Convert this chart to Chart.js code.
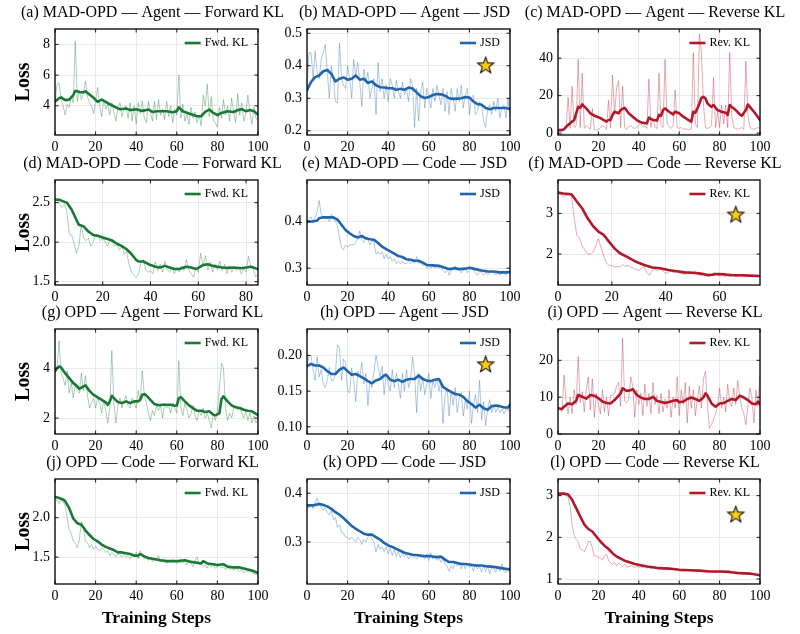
<!DOCTYPE html>
<html>
<head>
<meta charset="utf-8">
<script src="https://cdn.jsdelivr.net/npm/chart.js@4.4.0/dist/chart.umd.min.js"></script>
<style>
  body { margin: 0; background: #fff; }
  #wrap { position: relative; width: 800px; height: 634px; overflow: hidden; background: #fff; }
  #wrap canvas { position: absolute; }
</style>
</head>
<body>
<div id="wrap"></div>
<script>
// ---- data ----
// raw series: one value per training step (step = index)
const rawA = [4.2,5.4,5.5,4.4,4.0,3.4,4.1,3.9,4.6,4.2,8.2,4.3,5.0,4.4,4.8,5.6,4.6,4.2,4.0,3.5,
  4.3,5.2,4.0,3.3,4.4,3.8,4.1,3.4,4.2,3.6,3.0,3.9,4.2,3.3,3.8,4.0,3.2,4.2,3.0,4.0,
  2.8,4.2,3.5,4.3,3.2,2.9,4.3,3.6,3.0,4.3,3.1,4.4,3.4,3.8,3.1,4.3,3.3,4.0,2.9,3.8,
  3.4,6.0,3.2,4.1,3.0,3.5,2.8,3.9,3.2,3.6,2.9,3.4,2.7,4.7,4.0,5.4,3.3,4.6,3.0,2.9,
  2.6,3.9,3.2,4.4,3.4,4.0,3.0,4.5,3.6,2.9,4.8,3.4,4.2,3.0,3.5,4.7,3.6,2.8,3.9,3.2,3.0];
const rawB = [0.33,0.44,0.44,0.36,0.445,0.38,0.36,0.42,0.44,0.465,0.38,0.30,0.40,0.36,0.29,0.285,0.47,0.36,0.34,0.33,
  0.40,0.36,0.30,0.42,0.37,0.41,0.35,0.275,0.39,0.35,0.38,0.30,0.33,0.36,0.25,0.41,0.32,0.36,0.30,0.34,
  0.29,0.36,0.34,0.30,0.355,0.32,0.30,0.35,0.31,0.33,0.29,0.36,0.34,0.21,0.33,0.23,0.32,0.35,0.27,0.33,
  0.30,0.27,0.33,0.29,0.34,0.31,0.28,0.33,0.26,0.32,0.25,0.33,0.30,0.26,0.33,0.29,0.34,0.27,0.31,0.33,
  0.25,0.30,0.31,0.25,0.26,0.29,0.28,0.23,0.21,0.27,0.28,0.25,0.29,0.26,0.30,0.24,0.27,0.28,0.24,0.30,0.24];
const rawC = [1.5,1.6,1.5,2.5,3,19,2.5,25,3,4,39.5,3,32,2.5,4,3,2,13,2,1.5,
  2,3,4,3.5,2,17.5,3,31,10,24,28,3,25,3,2,3.5,4,3,2.5,3,
  4.5,5,3,4,2.5,29,3,8,3,2.5,32,4,3,39.5,5,3.5,2.5,4,23,3,
  2.5,3,2,2.5,2,2,2.5,43,5,3,53,43,15,3,2.5,3,4,29.5,3,11.5,
  3,15,5,15,3,43,10,3,2.5,2,2.5,3,2,38.5,10,3,2.5,2,2.5,3,2.5];
const rawD = [2.55,2.52,2.48,2.44,2.48,2.38,2.1,2.09,1.98,1.86,1.95,2.22,2.05,2.02,2.05,1.95,2.0,2.1,2.08,2.02,
  2.05,2.0,1.95,2.03,2.0,1.95,1.97,1.9,1.95,1.85,1.88,1.72,1.62,1.58,1.55,1.6,1.75,1.78,1.65,1.62,
  1.64,1.6,1.75,1.64,1.72,1.62,1.76,1.65,1.62,1.68,1.6,1.68,1.62,1.7,1.64,1.78,1.65,1.6,1.56,1.68,
  1.62,1.86,1.7,1.83,1.65,1.75,1.62,1.72,1.65,1.76,1.64,1.72,1.6,1.7,1.62,1.68,1.64,1.69,1.6,1.66,
  1.62,1.82,1.7,1.66,1.56,1.6];
const rawE = [0.40,0.405,0.41,0.40,0.41,0.42,0.445,0.415,0.41,0.405,0.41,0.40,0.415,0.405,0.40,0.39,0.365,0.345,0.34,0.35,
  0.345,0.35,0.35,0.35,0.355,0.365,0.38,0.36,0.355,0.365,0.36,0.35,0.36,0.355,0.33,0.335,0.33,0.335,0.32,0.33,
  0.32,0.325,0.315,0.32,0.31,0.315,0.31,0.315,0.31,0.31,0.315,0.31,0.315,0.31,0.325,0.31,0.315,0.305,0.31,0.30,
  0.305,0.30,0.305,0.30,0.305,0.30,0.305,0.295,0.29,0.30,0.285,0.295,0.30,0.305,0.295,0.30,0.29,0.295,0.30,0.29,
  0.295,0.30,0.295,0.29,0.285,0.295,0.29,0.285,0.29,0.285,0.29,0.295,0.29,0.285,0.29,0.285,0.29,0.295,0.285,0.29,0.29];
const rawF = [3.5,3.46,3.42,3.44,3.45,3.45,2.9,2.45,2.4,2.2,2.1,2.0,2.0,2.05,2.2,2.38,2.15,1.95,1.78,1.72,
  1.72,1.68,1.7,1.68,1.74,1.7,1.72,1.68,1.65,1.62,1.6,1.65,1.68,1.55,1.48,1.6,1.62,1.6,1.62,1.58,
  1.52,1.55,1.58,1.54,1.58,1.55,1.52,1.5,1.52,1.55,1.52,1.58,1.5,1.48,1.5,1.48,1.52,1.48,1.56,1.5,
  1.46,1.48,1.45,1.47,1.45,1.48,1.44,1.46,1.47,1.45,1.44,1.46,1.48,1.45,1.44,1.45];
const rawG = [3.9,4.0,5.1,3.8,3.6,3.3,3.9,3.0,3.4,2.8,3.3,3.1,3.0,3.8,3.1,3.7,2.9,2.4,2.6,2.8,
  2.4,2.8,2.6,2.2,2.7,2.3,1.8,2.4,4.7,2.6,1.8,2.5,2.8,2.4,2.7,2.9,2.5,2.4,2.8,2.6,
  2.4,3.1,2.7,3.9,2.9,2.6,2.2,1.9,2.3,2.1,2.5,2.3,2.5,2.0,2.6,2.4,2.5,2.2,2.6,2.4,
  2.2,4.3,2.4,2.1,2.6,2.3,2.0,2.2,2.5,2.1,1.9,2.3,2.1,2.4,2.0,2.2,1.9,1.6,2.2,1.9,
  2.3,3.2,4.2,4.0,2.4,1.9,2.2,2.0,2.4,2.5,2.3,2.4,2.2,2.0,2.3,1.9,2.2,1.8,2.1,1.8,2.0];
const rawH = [0.185,0.2,0.2,0.18,0.165,0.198,0.17,0.18,0.16,0.155,0.165,0.183,0.165,0.165,0.175,0.215,0.21,0.165,0.195,0.19,
  0.15,0.148,0.182,0.165,0.135,0.178,0.17,0.19,0.16,0.175,0.13,0.165,0.155,0.178,0.2,0.185,0.17,0.185,0.145,0.175,
  0.16,0.15,0.18,0.155,0.175,0.16,0.14,0.175,0.15,0.18,0.155,0.165,0.198,0.175,0.12,0.175,0.15,0.17,0.145,0.16,
  0.175,0.14,0.165,0.155,0.168,0.15,0.165,0.105,0.145,0.155,0.115,0.15,0.13,0.155,0.12,0.14,0.148,0.115,0.138,0.125,
  0.15,0.105,0.13,0.145,0.12,0.165,0.11,0.135,0.102,0.125,0.138,0.12,0.13,0.12,0.128,0.12,0.125,0.118,0.125,0.122,0.135];
const rawI = [7,6.5,6,16,9,5.5,10,5.5,12,8,21,8.5,11.5,6,12,15.5,6.5,15,4.5,11,
  8,5.5,12,6,10,5,10.5,10.5,11,13,14,7.5,26,9,8.5,9.5,15.5,13,4.5,12,
  8,11,5,13.5,7.5,11,5.5,14,8,10.5,5.5,11,6,9.5,7,12,4.5,10,7,15.5,
  5,12,8,14,3,13,7,12,5,9.5,13,7,15,17,8,1.5,2.5,4,5.5,7.5,
  12.5,7,10,6,13.5,9,7.5,12.5,8,14.5,10,7,5.5,2.5,7.5,12.5,10,3,12,7.5,16];
const rawJ = [2.26,2.22,2.18,2.22,2.2,2.16,2.0,1.85,1.8,1.7,1.68,1.62,1.72,1.95,1.88,1.7,1.68,1.62,1.66,1.6,
  1.64,1.6,1.58,1.62,1.6,1.56,1.58,1.52,1.56,1.54,1.5,1.55,1.52,1.5,1.54,1.5,1.52,1.48,1.52,1.5,
  1.56,1.48,1.58,1.52,1.48,1.5,1.46,1.5,1.44,1.48,1.46,1.52,1.44,1.48,1.45,1.42,1.46,1.44,1.47,1.44,
  1.42,1.46,1.48,1.43,1.45,1.4,1.46,1.42,1.38,1.46,1.5,1.4,1.43,1.38,1.4,1.36,1.42,1.38,1.4,1.36,
  1.38,1.4,1.36,1.38,1.34,1.37,1.34,1.36,1.33,1.36,1.34,1.32,1.35,1.3,1.33,1.31,1.32,1.3,1.29,1.28,1.27];
const rawK = [0.372,0.37,0.378,0.368,0.38,0.39,0.375,0.372,0.365,0.37,0.36,0.355,0.365,0.345,0.35,0.33,0.335,0.32,0.318,0.31,
  0.31,0.305,0.31,0.305,0.3,0.31,0.305,0.295,0.305,0.3,0.31,0.315,0.305,0.3,0.28,0.295,0.285,0.29,0.28,0.29,
  0.275,0.288,0.272,0.285,0.27,0.28,0.268,0.278,0.27,0.275,0.265,0.272,0.268,0.27,0.265,0.272,0.268,0.27,0.265,0.275,
  0.262,0.278,0.265,0.27,0.262,0.268,0.258,0.265,0.255,0.25,0.24,0.252,0.245,0.26,0.25,0.255,0.245,0.258,0.245,0.255,
  0.248,0.252,0.24,0.255,0.245,0.25,0.238,0.252,0.24,0.25,0.235,0.248,0.245,0.238,0.25,0.24,0.255,0.24,0.238,0.242,0.24];
const rawL = [3.05,3.04,3.03,3.02,3.0,2.95,2.75,2.3,2.05,1.95,1.9,1.72,1.7,1.65,1.75,1.9,1.9,1.75,1.55,1.55,
  1.52,1.5,1.45,1.55,1.6,1.45,1.4,1.35,1.4,1.32,1.38,1.35,1.3,1.35,1.28,1.3,1.32,1.3,1.28,1.3,
  1.28,1.3,1.27,1.3,1.26,1.28,1.25,1.27,1.25,1.27,1.24,1.26,1.23,1.25,1.24,1.25,1.23,1.24,1.22,1.23,
  1.22,1.2,1.22,1.2,1.21,1.2,1.21,1.19,1.2,1.18,1.19,1.18,1.19,1.17,1.18,1.17,1.18,1.16,1.17,1.16,
  1.17,1.15,1.16,1.15,1.16,1.14,1.15,1.14,1.15,1.13,1.14,1.13,1.12,1.13,1.11,1.12,1.1,1.11,1.1,1.09,1.09];

// smoothed series: [step, value]
const smoothA = [[0,4.26],[2,4.5],[3,4.55],[5,4.37],[7,4.4],[9,4.7],[10,4.98],[12,4.9],[14,4.87],[15,4.94],[17,4.74],[19,4.52],
  [21,4.26],[23,4.4],[25,4.26],[27,4.1],[30,3.9],[32,3.78],[35,3.83],[37,3.72],[40,3.78],[43,3.67],[46,3.76],[48,3.6],[50,3.65],
  [55,3.65],[58,3.58],[60,3.65],[61,3.9],[63,3.65],[66,3.5],[70,3.32],[72,3.32],[74,3.6],[76,3.76],[78,3.54],[80,3.39],[82,3.54],
  [85,3.65],[88,3.6],[90,3.72],[92,3.78],[94,3.65],[96,3.72],[98,3.65],[100,3.43]];
const smoothB = [[0,0.325],[2,0.35],[4,0.365],[6,0.37],[8,0.383],[10,0.387],[12,0.375],[14,0.352],[16,0.36],[18,0.364],[20,0.357],
  [22,0.36],[24,0.37],[26,0.357],[28,0.36],[30,0.347],[32,0.352],[34,0.34],[36,0.334],[38,0.333],[40,0.331],[42,0.331],[44,0.326],
  [46,0.329],[48,0.326],[50,0.333],[52,0.33],[54,0.318],[56,0.306],[58,0.301],[60,0.304],[62,0.31],[64,0.313],[66,0.312],[68,0.308],
  [70,0.3],[72,0.298],[74,0.299],[76,0.3],[78,0.304],[80,0.302],[82,0.29],[84,0.282],[86,0.28],[88,0.27],[90,0.266],[92,0.27],
  [94,0.27],[96,0.27],[98,0.27],[100,0.267]];
const smoothC = [[0,1.6],[2,1.6],[3,2.1],[5,4.4],[7,6.2],[8,7],[9,10.6],[10,14],[11,13.5],[12,15.3],[14,13.2],[16,10.6],[18,9.3],
  [20,8.5],[22,7.4],[24,6.2],[25,7],[26,7],[27,9.7],[28,11.4],[30,10.6],[31,12.3],[32,12.9],[33,13.5],[35,10.6],[37,8.8],[39,7],
  [41,5.8],[43,5.3],[44,5.3],[45,8.3],[47,7],[49,6.7],[50,9.7],[51,9.2],[52,12.3],[53,13.2],[55,11.4],[57,10],[58,11.4],[60,10.6],
  [62,8.8],[64,7.4],[66,6.2],[67,11.4],[68,10.9],[69,13.2],[70,15.8],[71,18.8],[72,19.4],[73,18.5],[74,15.8],[76,14],[77,15],
  [78,13.5],[79,12.3],[81,11.4],[83,10.9],[84,9.7],[85,15],[86,14],[88,12.3],[90,10],[91,9.3],[93,12.3],[94,15.3],[95,14],
  [97,11.4],[100,7]];
const smoothD = [[0,2.54],[2,2.535],[4,2.51],[5,2.5],[7,2.41],[9,2.28],[10,2.22],[12,2.2],[14,2.135],[16,2.09],[18,2.08],[20,2.06],
  [22,2.04],[24,2.02],[26,1.98],[28,1.95],[30,1.91],[32,1.85],[34,1.775],[35,1.755],[37,1.755],[40,1.71],[42,1.69],[44,1.68],
  [46,1.7],[48,1.68],[50,1.66],[52,1.66],[55,1.69],[57,1.68],[59,1.66],[60,1.675],[62,1.71],[64,1.72],[66,1.7],[68,1.69],[70,1.68],
  [72,1.675],[75,1.68],[78,1.67],[80,1.68],[82,1.69],[85,1.66]];
const smoothE = [[0,0.4],[3,0.4],[5,0.402],[6,0.407],[8,0.409],[10,0.409],[13,0.409],[15,0.404],[17,0.393],[19,0.382],[21,0.375],
  [23,0.369],[25,0.366],[27,0.369],[29,0.364],[31,0.362],[33,0.361],[35,0.354],[37,0.346],[39,0.341],[41,0.336],[43,0.331],
  [45,0.326],[47,0.324],[49,0.319],[51,0.318],[53,0.316],[55,0.316],[57,0.312],[59,0.307],[62,0.306],[65,0.305],[68,0.301],
  [70,0.298],[73,0.3],[75,0.298],[78,0.299],[80,0.301],[83,0.298],[86,0.295],[89,0.293],[92,0.293],[95,0.291],[98,0.291],[100,0.292]];
const smoothF = [[0,3.51],[2,3.49],[5,3.47],[7,3.29],[9,3.12],[11,2.88],[13,2.69],[15,2.55],[17,2.47],[19,2.3],[21,2.14],[23,2.02],
  [26,1.92],[29,1.81],[32,1.73],[35,1.67],[38,1.65],[41,1.61],[44,1.58],[47,1.55],[50,1.54],[53,1.52],[56,1.48],[59,1.51],
  [62,1.5],[65,1.48],[68,1.48],[71,1.47],[75,1.46]];
const smoothG = [[0,3.87],[1,4.0],[2,4.07],[3,4.03],[5,3.8],[7,3.6],[9,3.4],[11,3.27],[12,3.17],[14,3.27],[15,3.31],[17,3.09],
  [19,2.93],[21,2.83],[23,2.73],[25,2.63],[26,2.53],[27,2.67],[28,2.89],[29,2.8],[31,2.64],[33,2.6],[35,2.67],[37,2.6],[39,2.67],
  [41,2.67],[42,2.73],[43,2.93],[44,2.96],[45,2.91],[47,2.73],[49,2.56],[51,2.51],[53,2.53],[55,2.53],[57,2.53],[59,2.49],
  [60,2.5],[61,2.8],[62,2.84],[64,2.67],[66,2.51],[68,2.4],[70,2.29],[72,2.29],[74,2.24],[76,2.27],[78,2.13],[79,2.11],[80,2.15],
  [81,2.2],[82,2.76],[83,2.87],[85,2.67],[87,2.51],[89,2.43],[91,2.4],[93,2.33],[95,2.29],[97,2.27],[99,2.17],[100,2.11]];
const smoothH = [[0,0.185],[2,0.188],[4,0.186],[6,0.186],[8,0.183],[10,0.178],[12,0.174],[14,0.174],[16,0.18],[18,0.183],[20,0.178],
  [22,0.173],[24,0.174],[26,0.171],[28,0.168],[30,0.164],[32,0.161],[34,0.165],[36,0.167],[38,0.172],[39,0.173],[41,0.166],
  [43,0.164],[45,0.166],[47,0.163],[49,0.166],[51,0.167],[53,0.167],[55,0.172],[57,0.167],[59,0.165],[61,0.164],[63,0.166],
  [65,0.167],[67,0.156],[69,0.152],[71,0.149],[73,0.146],[75,0.145],[77,0.142],[79,0.136],[81,0.132],[83,0.127],[85,0.131],
  [87,0.126],[89,0.124],[91,0.129],[93,0.13],[95,0.129],[97,0.127],[99,0.127],[100,0.131]];
const smoothI = [[0,7.0],[2,6.8],[3,7.4],[5,8.3],[7,8.1],[9,9.0],[10,10.6],[12,10.1],[14,9.6],[16,10.6],[18,10.4],[20,9.7],[22,8.8],
  [24,8.4],[26,8.3],[28,9.2],[30,10.4],[31,11],[32,12.4],[34,11.7],[36,11.9],[37,12.2],[39,10.6],[41,9.9],[43,9.5],[45,9.5],
  [47,10.1],[49,9.0],[51,8.7],[53,8.4],[55,8.7],[57,9.0],[59,9.2],[60,8.6],[62,8.8],[64,9.5],[66,9.9],[68,9.5],[70,9.0],[72,9.9],
  [73,11],[74,10.4],[76,8.3],[78,7.4],[80,8.3],[82,8.4],[84,9.0],[86,9.5],[88,9.2],[90,10.4],[92,9.9],[94,9.2],[96,8.3],[98,8.1],
  [99,8.8],[100,8.1]];
const smoothJ = [[0,2.265],[2,2.25],[4,2.23],[5,2.21],[7,2.12],[9,1.99],[11,1.93],[13,1.91],[15,1.84],[17,1.78],[19,1.73],[21,1.7],
  [23,1.66],[25,1.63],[27,1.61],[29,1.59],[31,1.56],[33,1.56],[35,1.55],[37,1.54],[39,1.52],[41,1.52],[42,1.54],[44,1.51],
  [46,1.49],[48,1.48],[50,1.47],[52,1.46],[55,1.45],[58,1.45],[61,1.45],[64,1.46],[67,1.44],[70,1.43],[72,1.42],[73,1.45],
  [75,1.42],[78,1.41],[80,1.4],[83,1.41],[85,1.38],[88,1.37],[91,1.37],[94,1.35],[97,1.33],[100,1.3]];
const smoothK = [[0,0.375],[3,0.375],[6,0.378],[8,0.376],[10,0.373],[12,0.368],[14,0.361],[16,0.356],[18,0.349],[20,0.341],
  [22,0.333],[24,0.327],[26,0.322],[28,0.317],[30,0.315],[32,0.315],[34,0.31],[36,0.305],[38,0.298],[40,0.293],[42,0.29],
  [44,0.286],[46,0.282],[48,0.278],[50,0.276],[52,0.274],[55,0.273],[58,0.271],[61,0.271],[64,0.269],[66,0.27],[68,0.264],
  [70,0.259],[72,0.259],[74,0.257],[76,0.255],[78,0.255],[80,0.254],[83,0.252],[86,0.252],[89,0.25],[92,0.249],[95,0.247],
  [98,0.245],[100,0.244]];
const smoothL = [[0,3.05],[3,3.05],[5,3.03],[7,2.9],[9,2.7],[11,2.5],[13,2.31],[15,2.2],[17,2.14],[19,2.02],[21,1.9],[23,1.8],
  [25,1.72],[27,1.62],[29,1.54],[31,1.49],[33,1.44],[35,1.41],[38,1.36],[41,1.33],[44,1.3],[47,1.28],[50,1.26],[55,1.25],
  [60,1.22],[65,1.21],[70,1.2],[75,1.18],[80,1.18],[85,1.17],[90,1.14],[95,1.13],[100,1.09]];

// star markers [step, value]
const starB = [88, 0.40];
const starF = [66, 2.96];
const starH = [88, 0.187];
const starL = [88, 2.54];

// tick labels
const xTicks100 = ['0', '20', '40', '60', '80', '100'];
const xTicksD = ['0', '20', '40', '60', '80'];
const xTicksF = ['0', '20', '40', '60'];
const yTicksA = ['4', '6', '8'];
const yTicksB = ['0.2', '0.3', '0.4', '0.5'];
const yTicksC = ['0', '20', '40'];
const yTicksD = ['1.5', '2.0', '2.5'];
const yTicksE = ['0.3', '0.4'];
const yTicksF = ['2', '3'];
const yTicksG = ['2', '4'];
const yTicksH = ['0.10', '0.15', '0.20'];
const yTicksI = ['0', '10', '20'];
const yTicksJ = ['1.5', '2.0'];
const yTicksK = ['0.3', '0.4'];
const yTicksL = ['1', '2', '3'];

const lossNames = { fwd: 'Fwd. KL', jsd: 'JSD', rev: 'Rev. KL' };
const lossColors = { fwd: [27, 120, 55], jsd: [33, 102, 172], rev: [178, 24, 43] };

// ---- layout ----
const SERIF = '"Liberation Serif", "Times New Roman", Times, serif';
const plotLeft = [55, 307, 558];
const plotRight = [258, 510, 760];
const plotTop = [29, 180, 329, 479];
const plotBottom = [135, 285, 434, 584];
const AXIS_W = 55, PAD_TOP = 29, PAD_RIGHT = 40;

const panels = [
  { title: '(a) MAD-OPD — Agent — Forward KL', loss: 'fwd', raw: rawA, smooth: smoothA, xMax: 100, yMin: 2.1, yMax: 9.0, xTicks: xTicks100, yTicks: yTicksA },
  { title: '(b) MAD-OPD — Agent — JSD', loss: 'jsd', raw: rawB, smooth: smoothB, xMax: 100, yMin: 0.187, yMax: 0.513, xTicks: xTicks100, yTicks: yTicksB, star: starB },
  { title: '(c) MAD-OPD — Agent — Reverse KL', loss: 'rev', raw: rawC, smooth: smoothC, xMax: 100, yMin: -1, yMax: 55.6, xTicks: xTicks100, yTicks: yTicksC },
  { title: '(d) MAD-OPD — Code — Forward KL', loss: 'fwd', raw: rawD, smooth: smoothD, xMax: 85, yMin: 1.458, yMax: 2.787, xTicks: xTicksD, yTicks: yTicksD },
  { title: '(e) MAD-OPD — Code — JSD', loss: 'jsd', raw: rawE, smooth: smoothE, xMax: 100, yMin: 0.264, yMax: 0.489, xTicks: xTicks100, yTicks: yTicksE },
  { title: '(f) MAD-OPD — Code — Reverse KL', loss: 'rev', raw: rawF, smooth: smoothF, xMax: 75, yMin: 1.24, yMax: 3.82, xTicks: xTicksF, yTicks: yTicksF, star: starF },
  { title: '(g) OPD — Agent — Forward KL', loss: 'fwd', raw: rawG, smooth: smoothG, xMax: 100, yMin: 1.36, yMax: 5.57, xTicks: xTicks100, yTicks: yTicksG },
  { title: '(h) OPD — Agent — JSD', loss: 'jsd', raw: rawH, smooth: smoothH, xMax: 100, yMin: 0.090, yMax: 0.237, xTicks: xTicks100, yTicks: yTicksH, star: starH },
  { title: '(i) OPD — Agent — Reverse KL', loss: 'rev', raw: rawI, smooth: smoothI, xMax: 100, yMin: 0, yMax: 28.5, xTicks: xTicks100, yTicks: yTicksI },
  { title: '(j) OPD — Code — Forward KL', loss: 'fwd', raw: rawJ, smooth: smoothJ, xMax: 100, yMin: 1.16, yMax: 2.49, xTicks: xTicks100, yTicks: yTicksJ },
  { title: '(k) OPD — Code — JSD', loss: 'jsd', raw: rawK, smooth: smoothK, xMax: 100, yMin: 0.214, yMax: 0.429, xTicks: xTicks100, yTicks: yTicksK },
  { title: '(l) OPD — Code — Reverse KL', loss: 'rev', raw: rawL, smooth: smoothL, xMax: 100, yMin: 0.88, yMax: 3.40, xTicks: xTicks100, yTicks: yTicksL, star: starL }
];

function rgba(c, a) { return 'rgba(' + c[0] + ',' + c[1] + ',' + c[2] + ',' + a + ')'; }

// filled gold star used as a point style
function makeStar(r) {
  const size = Math.ceil(r * 2 + 4);
  const c = document.createElement('canvas');
  c.width = size; c.height = size;
  const g = c.getContext('2d');
  g.beginPath();
  for (let i = 0; i < 10; i++) {
    const rad = i % 2 === 0 ? r : r * 0.42;
    const a = -Math.PI / 2 + i * Math.PI / 5;
    g.lineTo(size / 2 + rad * Math.cos(a), size / 2 + rad * Math.sin(a));
  }
  g.closePath();
  g.fillStyle = '#ffcc12';
  g.fill();
  g.lineWidth = 1.1;
  g.strokeStyle = '#111';
  g.stroke();
  return c;
}
const starImg = makeStar(8.5);

// frame, inward ticks, legend and panel title
const panelDecor = {
  id: 'panelDecor',
  afterDatasetsDraw(chart, args, opts) {
    const { ctx, chartArea: a, scales } = chart;
    ctx.save();
    ctx.strokeStyle = '#000';
    ctx.lineWidth = 0.9;
    const len = 3.5;
    ctx.beginPath();
    scales.x.ticks.forEach(t => {
      const px = scales.x.getPixelForValue(t.value);
      ctx.moveTo(px, a.bottom); ctx.lineTo(px, a.bottom - len);
      ctx.moveTo(px, a.top); ctx.lineTo(px, a.top + len);
    });
    scales.y.ticks.forEach(t => {
      const py = scales.y.getPixelForValue(t.value);
      ctx.moveTo(a.left, py); ctx.lineTo(a.left + len, py);
      ctx.moveTo(a.right, py); ctx.lineTo(a.right - len, py);
    });
    ctx.stroke();
    ctx.lineWidth = 1.3;
    ctx.strokeRect(a.left, a.top, a.right - a.left, a.bottom - a.top);

    // legend
    ctx.font = '12px ' + SERIF;
    ctx.textBaseline = 'middle';
    ctx.textAlign = 'left';
    const ly = a.top + 14;
    const tw = ctx.measureText(opts.label).width;
    const tx = a.right - 10 - tw;
    ctx.fillStyle = '#000';
    ctx.fillText(opts.label, tx, ly);
    ctx.strokeStyle = opts.color;
    ctx.lineWidth = 2.6;
    ctx.beginPath();
    ctx.moveTo(tx - 20, ly); ctx.lineTo(tx - 4, ly);
    ctx.stroke();

    // title
    ctx.font = '16px ' + SERIF;
    ctx.textAlign = 'center';
    ctx.fillStyle = '#000';
    ctx.fillText(opts.title, (a.left + a.right) / 2 - 4, a.top - 16);
    ctx.restore();
  }
};

const wrap = document.getElementById('wrap');
panels.forEach((p, i) => {
  const col = i % 3, row = Math.floor(i / 3);
  const lastRow = row === 3;
  const bottomSpace = lastRow ? 634 - plotBottom[row] : 20;
  const canvas = document.createElement('canvas');
  const w = AXIS_W + (plotRight[col] - plotLeft[col]) + PAD_RIGHT;
  const h = PAD_TOP + (plotBottom[row] - plotTop[row]) + bottomSpace;
  canvas.width = w; canvas.height = h;
  canvas.style.left = (plotLeft[col] - AXIS_W) + 'px';
  canvas.style.top = (plotTop[row] - PAD_TOP) + 'px';
  canvas.style.width = w + 'px'; canvas.style.height = h + 'px';
  wrap.appendChild(canvas);

  const color = lossColors[p.loss];
  const datasets = [];
  if (p.star) {
    datasets.push({ data: [{ x: p.star[0], y: p.star[1] }], showLine: false, pointStyle: starImg, pointRadius: 8, order: 0 });
  }
  datasets.push({
    label: lossNames[p.loss],
    data: p.smooth.map(d => ({ x: d[0], y: d[1] })),
    borderColor: rgba(color, 1), borderWidth: 2.6, pointRadius: 0, tension: 0,
    borderJoinStyle: 'round', borderCapStyle: 'round', order: 1
  });
  datasets.push({
    label: 'raw',
    data: p.raw.map((v, k) => ({ x: k, y: v })),
    borderColor: rgba(color, 0.36), borderWidth: 1, pointRadius: 0, tension: 0, order: 2
  });

  const tickFont = { family: SERIF, size: 14 };
  new Chart(canvas, {
    type: 'line',
    data: { datasets },
    options: {
      responsive: false,
      animation: false,
      devicePixelRatio: 1,
      layout: { padding: { left: 0, top: PAD_TOP, right: PAD_RIGHT, bottom: 0 } },
      plugins: {
        legend: { display: false },
        tooltip: { enabled: false },
        panelDecor: { title: p.title, label: lossNames[p.loss], color: rgba(color, 1) }
      },
      scales: {
        x: {
          type: 'linear', min: 0, max: p.xMax,
          afterBuildTicks: s => { s.ticks = p.xTicks.map(t => ({ value: parseFloat(t) })); },
          afterFit: s => { s.height = bottomSpace; },
          ticks: { font: tickFont, color: '#000', padding: 4, maxRotation: 0, autoSkip: false,
            callback: (v, k) => p.xTicks[k] },
          grid: { color: '#e3e3e3', lineWidth: 0.8, drawTicks: false },
          border: { display: false },
          title: { display: lastRow, text: 'Training Steps', color: '#000',
            font: { family: SERIF, size: 17.5, weight: 'bold' }, padding: { top: 0, bottom: 5 } }
        },
        y: {
          type: 'linear', min: p.yMin, max: p.yMax,
          afterBuildTicks: s => { s.ticks = p.yTicks.map(t => ({ value: parseFloat(t) })); },
          afterFit: s => { s.width = AXIS_W; },
          ticks: { font: tickFont, color: '#000', padding: 5, autoSkip: false,
            callback: (v, k) => p.yTicks[k] },
          grid: { color: '#e3e3e3', lineWidth: 0.8, drawTicks: false },
          border: { display: false },
          title: { display: col === 0, text: 'Loss', color: '#000',
            font: { family: SERIF, size: 20, weight: 'bold' }, padding: { top: 12, bottom: 0 } }
        }
      }
    },
    plugins: [panelDecor]
  });
});
</script>
</body>
</html>
